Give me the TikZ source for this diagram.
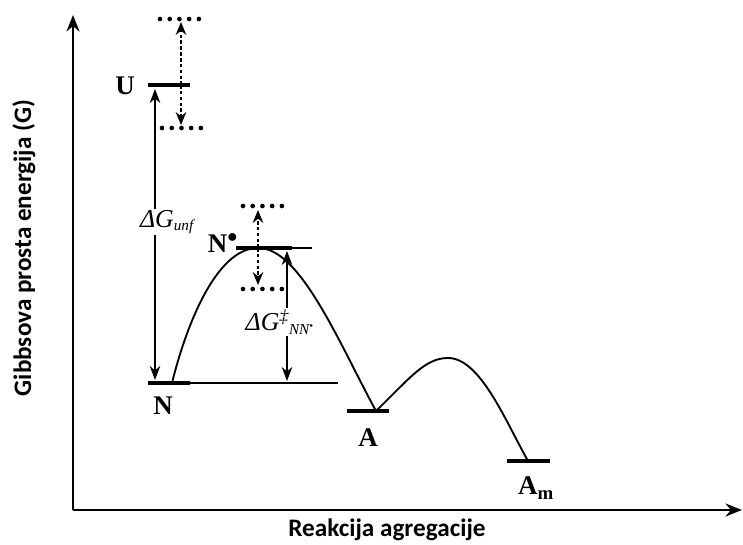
\documentclass[tikz,border=0pt]{standalone}
\usepackage{fontspec}
\setmainfont{Liberation Serif}
\newfontfamily\axisfont{Carlito}
\usetikzlibrary{arrows.meta, positioning}
\tikzset{
    axis/.style={line width=2.4pt, -{Stealth[length=14pt, width=11pt]}},
    level/.style={line width=4.2pt},
    thinlevel/.style={line width=1.3pt},
    curve/.style={line width=1.6pt},
    dotlevel/.style={line width=4pt, line cap=round, dash pattern=on 0pt off 8.3pt},
    shiftarrow/.style={line width=1.4pt, densely dashed, -{Stealth[length=11pt, width=9pt]}},
    gaparrow/.style={line width=1.1pt, -{Stealth[length=12pt, width=9pt]}},
    lbl/.style={font=\fontsize{23}{26}\selectfont\bfseries, inner sep=1pt},
    glbl/.style={font=\fontsize{22}{26}\selectfont\itshape, inner sep=1pt, fill=white},
    axislbl/.style={font=\axisfont\fontsize{21.5}{24}\selectfont\bfseries}
}

\begin{document}
\begin{tikzpicture}[x=0.03cm, y=-0.03cm]
\useasboundingbox (0,0) rectangle (743,545);

% Axes
\coordinate (origin) at (73,510);
\coordinate (ytop) at (73,15);
\coordinate (xend) at (742,510);
\draw [axis] (origin) -- (ytop);
\draw [axis] (origin) -- (xend);
\node (ylabel) [axislbl, rotate=90] at (24,248) {Gibbsova prosta energija (G)};
\node (xlabel) [axislbl] at (387,530) {Reakcija agregacije};

% Levels
\coordinate (U) at (181,85);
\coordinate (N) at (172,383);
\coordinate (Nst) at (258,248);
\coordinate (A) at (376,411);
\coordinate (Am) at (528,461);

\draw [level] (148,85) -- (190,85);
\draw [level] (148,383) -- (190,383);
\draw [thinlevel] (190,383) -- (338,383);
\draw [level] (236,248) -- (292,248);
\draw [thinlevel] (292,248) -- (312,248);
\draw [level] (347,411) -- (389,411);
\draw [level] (507,461) -- (550,461);

% Fluctuations
\draw [dotlevel] (160,19) -- (200,19);
\draw [dotlevel] (162,128) -- (202,128);
\draw [dotlevel] (243,206) -- (283,206);
\draw [dotlevel] (243,289) -- (283,289);
\draw [shiftarrow] (U) -- (181,22);
\draw [shiftarrow] (U) -- (181,125);
\draw [shiftarrow] (Nst) -- (258,210);
\draw [shiftarrow] (Nst) -- (258,285);

% Labels
\node (Ulbl) [lbl] at (125,86) {U};
\node (Nlbl) [lbl] at (163,406) {N};
\node (Nstlbl) [lbl] at (223,243) {N$^{\bullet}$};
\node (Albl) [lbl] at (368,438) {A};
\node (Amlbl) [lbl] at (536,488) {A\textsubscript{m}};
\node (dGunf) [glbl] at (167,222) {ΔG\textsubscript{\fontsize{13}{14}\selectfont unf}};
\node (dGNN) [glbl] at (280,322) {ΔG\textsuperscript{‡}\textsubscript{\fontsize{13}{14}\selectfont NN\textsuperscript{•}}};

% Energy gaps
\coordinate (Ugap) at (155,89);
\coordinate (Ngap) at (155,380);
\coordinate (Nstgap) at (287,251);
\coordinate (Ngap2) at (287,381);
\draw [gaparrow] (dGunf.north -| Ugap) -- (Ugap);
\draw [gaparrow] (dGunf.south -| Ngap) -- (Ngap);
\draw [gaparrow] (dGNN.north -| Nstgap) -- (Nstgap);
\draw [gaparrow] (dGNN.south -| Ngap2) -- (Ngap2);

% Reaction path
\draw [curve] (N) .. controls (185,330) and (215,248) .. (Nst)
    .. controls (300,247) and (340,345) .. (A);
\draw [curve] (A) .. controls (410,378) and (425,358) .. (448,358)
    .. controls (480,358) and (505,420) .. (Am);

\end{tikzpicture}
\end{document}
